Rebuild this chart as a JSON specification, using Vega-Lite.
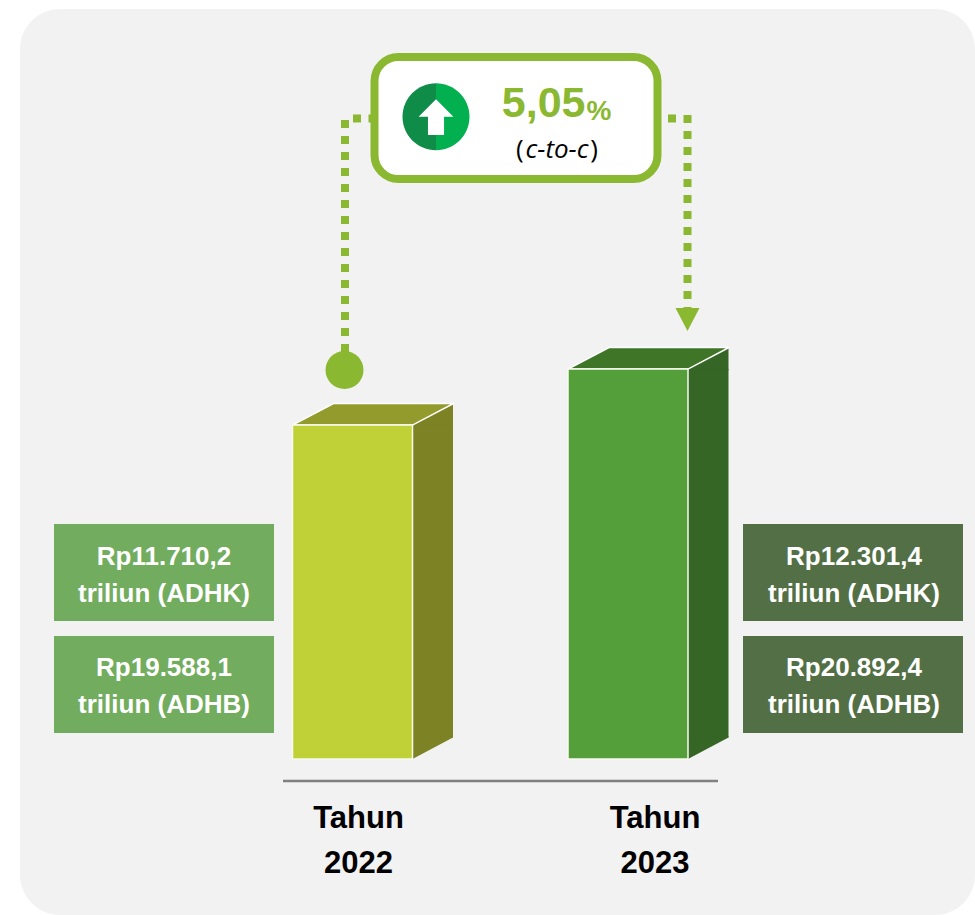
{"$schema":"https://vega.github.io/schema/vega-lite/v6.json","width":975,"height":915,"autosize":{"type":"fit","contains":"padding"},"padding":{"left":20,"top":9,"right":0,"bottom":0},"background":"#ffffff","view":{"fill":"#f2f2f2","stroke":null,"cornerRadius":40},"config":{"text":{"lineBreak":"\n"}},"datasets":{"gdp":[{"year":"2022","adhk":11710.2,"adhb":19588.1,"labelAdhk":"Rp11.710,2\ntriliun (ADHK)","labelAdhb":"Rp19.588,1\ntriliun (ADHB)","yearLabel":"Tahun\n2022"},{"year":"2023","adhk":12301.4,"adhb":20892.4,"labelAdhk":"Rp12.301,4\ntriliun (ADHK)","labelAdhb":"Rp20.892,4\ntriliun (ADHB)","yearLabel":"Tahun\n2023"}],"callout":[{"year":"2022","growth":"5,05","unit":"%","basis":"c-to-c"}]},"data":{"name":"gdp"},"encoding":{"x":{"field":"year","type":"ordinal","scale":{"type":"point","domain":["2022","2023"],"range":[332.5,608],"padding":0},"axis":null}},"layer":[{"mark":{"type":"bar","size":40.5,"xOffset":80.25,"strokeWidth":0},"encoding":{"y":{"field":"adhk","type":"quantitative","scale":{"domain":[6537,16103],"zero":false,"nice":false},"axis":null},"y2":{"datum":8411},"fill":{"condition":{"test":"datum.year=='2022'","value":"#7d8225"},"value":"#356625"}}},{"mark":{"type":"point","filled":true,"opacity":1,"size":40804,"shape":"M0.594,0L0.995,-0.213L0.995,0.012L0.594,0.012Z","stroke":null},"encoding":{"y":{"field":"adhk","type":"quantitative"},"fill":{"condition":{"test":"datum.year=='2022'","value":"#7d8225"},"value":"#356625"}}},{"mark":{"type":"point","filled":true,"opacity":1,"size":40804,"shape":"M0.594,0L0.995,-0.213L0.995,-0.225L0.594,-0.225Z","stroke":null},"encoding":{"y":{"datum":8184,"type":"quantitative"},"fill":{"condition":{"test":"datum.year=='2022'","value":"#7d8225"},"value":"#356625"}}},{"mark":{"type":"point","filled":true,"opacity":1,"size":40804,"shape":"M-0.594,0L0.594,0L1,-0.213L-0.188,-0.213Z","stroke":"#ffffff","strokeWidth":1.5},"encoding":{"y":{"field":"adhk","type":"quantitative"},"fill":{"condition":{"test":"datum.year=='2022'","value":"#929b2b"},"value":"#3e7527"}}},{"mark":{"type":"bar","size":120,"stroke":"#f8faf0","strokeWidth":1.5},"encoding":{"y":{"field":"adhk","type":"quantitative"},"y2":{"datum":8184},"fill":{"condition":{"test":"datum.year=='2022'","value":"#c0d138"},"value":"#559f3b"}}},{"mark":{"type":"rule","color":"#808080","strokeWidth":2.5,"xOffset":-69.5,"x2Offset":90},"transform":[{"filter":"datum.year=='2022'"}],"encoding":{"x":{"datum":"2022"},"x2":{"datum":"2023"},"y":{"datum":7952,"type":"quantitative"}}},{"mark":{"type":"text","font":"Liberation Sans","fontWeight":"bold","fontSize":31,"lineHeight":45,"color":"#000000","xOffset":6,"baseline":"middle","align":"center"},"transform":[{"filter":"datum.year=='2022'"}],"encoding":{"y":{"datum":7551,"type":"quantitative"},"text":{"field":"yearLabel"}}},{"mark":{"type":"text","font":"Liberation Sans","fontWeight":"bold","fontSize":31,"lineHeight":45,"color":"#000000","xOffset":27,"baseline":"middle","align":"center"},"transform":[{"filter":"datum.year=='2023'"}],"encoding":{"y":{"datum":7551,"type":"quantitative"},"text":{"field":"yearLabel"}}},{"mark":{"type":"bar","size":220,"xOffset":-188.5,"color":"#72ac5e"},"transform":[{"filter":"datum.year=='2022'"}],"encoding":{"y":{"datum":10665,"type":"quantitative"},"y2":{"datum":9641}}},{"mark":{"type":"bar","size":220,"xOffset":-188.5,"color":"#72ac5e"},"transform":[{"filter":"datum.year=='2022'"}],"encoding":{"y":{"datum":9483,"type":"quantitative"},"y2":{"datum":8459}}},{"mark":{"type":"bar","size":220,"xOffset":225,"color":"#536f45"},"transform":[{"filter":"datum.year=='2023'"}],"encoding":{"y":{"datum":10665,"type":"quantitative"},"y2":{"datum":9641}}},{"mark":{"type":"bar","size":220,"xOffset":225,"color":"#536f45"},"transform":[{"filter":"datum.year=='2023'"}],"encoding":{"y":{"datum":9483,"type":"quantitative"},"y2":{"datum":8459}}},{"mark":{"type":"text","font":"Liberation Sans","fontWeight":"bold","fontSize":26,"lineHeight":37,"color":"#ffffff","xOffset":-188.5,"baseline":"middle","align":"center"},"transform":[{"filter":"datum.year=='2022'"}],"encoding":{"y":{"datum":10317,"type":"quantitative"},"text":{"field":"labelAdhk"}}},{"mark":{"type":"text","font":"Liberation Sans","fontWeight":"bold","fontSize":26,"lineHeight":37,"color":"#ffffff","xOffset":-188.5,"baseline":"middle","align":"center"},"transform":[{"filter":"datum.year=='2022'"}],"encoding":{"y":{"datum":9145,"type":"quantitative"},"text":{"field":"labelAdhb"}}},{"mark":{"type":"text","font":"Liberation Sans","fontWeight":"bold","fontSize":26,"lineHeight":37,"color":"#ffffff","xOffset":226,"baseline":"middle","align":"center"},"transform":[{"filter":"datum.year=='2023'"}],"encoding":{"y":{"datum":10317,"type":"quantitative"},"text":{"field":"labelAdhk"}}},{"mark":{"type":"text","font":"Liberation Sans","fontWeight":"bold","fontSize":26,"lineHeight":37,"color":"#ffffff","xOffset":226,"baseline":"middle","align":"center"},"transform":[{"filter":"datum.year=='2023'"}],"encoding":{"y":{"datum":9145,"type":"quantitative"},"text":{"field":"labelAdhb"}}},{"mark":{"type":"rule","color":"#8bb831","strokeWidth":8,"strokeDash":[8,8],"xOffset":-7.5},"transform":[{"filter":"datum.year=='2022'"}],"encoding":{"y":{"datum":14931,"type":"quantitative"},"y2":{"datum":12482}}},{"mark":{"type":"rule","color":"#8bb831","strokeWidth":8,"strokeDash":[8,8],"xOffset":59.5},"transform":[{"filter":"datum.year=='2023'"}],"encoding":{"y":{"datum":14984,"type":"quantitative"},"y2":{"datum":12946}}},{"mark":{"type":"point","shape":"square","filled":true,"opacity":1,"size":64,"color":"#8bb831","xOffset":4.5},"transform":[{"filter":"datum.year=='2022'"}],"encoding":{"y":{"datum":14947,"type":"quantitative"}}},{"mark":{"type":"point","shape":"square","filled":true,"opacity":1,"size":64,"color":"#8bb831","xOffset":20},"transform":[{"filter":"datum.year=='2022'"}],"encoding":{"y":{"datum":14947,"type":"quantitative"}}},{"mark":{"type":"point","shape":"square","filled":true,"opacity":1,"size":64,"color":"#8bb831","xOffset":44},"transform":[{"filter":"datum.year=='2023'"}],"encoding":{"y":{"datum":14947,"type":"quantitative"}}},{"mark":{"type":"point","shape":"M-1,-0.96L1,-0.96L0,0.96Z","filled":true,"opacity":1,"size":576,"color":"#8bb831","xOffset":59.5},"transform":[{"filter":"datum.year=='2023'"}],"encoding":{"y":{"datum":12825,"type":"quantitative"}}},{"mark":{"type":"point","shape":"circle","filled":true,"opacity":1,"size":1444,"color":"#8bb831","xOffset":-8},"transform":[{"filter":"datum.year=='2022'"}],"encoding":{"y":{"datum":12291,"type":"quantitative"}}},{"data":{"name":"callout"},"mark":{"type":"bar","size":283,"xOffset":163.5,"fill":"#ffffff","stroke":"#8bb831","strokeWidth":8,"cornerRadius":24},"encoding":{"y":{"datum":15597,"type":"quantitative"},"y2":{"datum":14308}}},{"data":{"name":"callout"},"mark":{"type":"point","shape":"M0,-1A1,1 0 0 0 0,1Z","filled":true,"opacity":1,"size":4489,"color":"#0f8c47","stroke":null,"xOffset":83.5},"encoding":{"y":{"datum":14966,"type":"quantitative"}}},{"data":{"name":"callout"},"mark":{"type":"point","shape":"M0,-1A1,1 0 0 1 0,1Z","filled":true,"opacity":1,"size":4489,"color":"#03b04f","stroke":null,"xOffset":83.5},"encoding":{"y":{"datum":14966,"type":"quantitative"}}},{"data":{"name":"callout"},"mark":{"type":"point","shape":"M0,-0.52L0.52,0L0.24,0L0.24,0.55L-0.24,0.55L-0.24,0L-0.52,0Z","filled":true,"opacity":1,"size":4489,"color":"#ffffff","stroke":null,"xOffset":83.5},"encoding":{"y":{"datum":14966,"type":"quantitative"}}},{"data":{"name":"callout"},"mark":{"type":"text","font":"Liberation Sans","fontWeight":"bold","fontSize":43,"color":"#8bb831","align":"right","baseline":"alphabetic","xOffset":233},"encoding":{"y":{"datum":14960,"type":"quantitative"},"text":{"field":"growth"}}},{"data":{"name":"callout"},"mark":{"type":"text","font":"Liberation Sans","fontWeight":"bold","fontSize":28,"color":"#8bb831","align":"left","baseline":"alphabetic","xOffset":234},"encoding":{"y":{"datum":14930,"type":"quantitative"},"text":{"field":"unit"}}},{"data":{"name":"callout"},"mark":{"type":"text","font":"Open Sans","fontStyle":"italic","fontSize":26,"color":"#000000","align":"center","baseline":"alphabetic","xOffset":204.5},"encoding":{"y":{"datum":14530,"type":"quantitative"},"text":{"field":"basis"}}},{"data":{"name":"callout"},"mark":{"type":"text","font":"Open Sans","fontSize":26,"color":"#000000","align":"left","baseline":"alphabetic","xOffset":163.5,"text":"("},"encoding":{"y":{"datum":14530,"type":"quantitative"}}},{"data":{"name":"callout"},"mark":{"type":"text","font":"Open Sans","fontSize":26,"color":"#000000","align":"right","baseline":"alphabetic","xOffset":245.5,"text":")"},"encoding":{"y":{"datum":14530,"type":"quantitative"}}}]}
